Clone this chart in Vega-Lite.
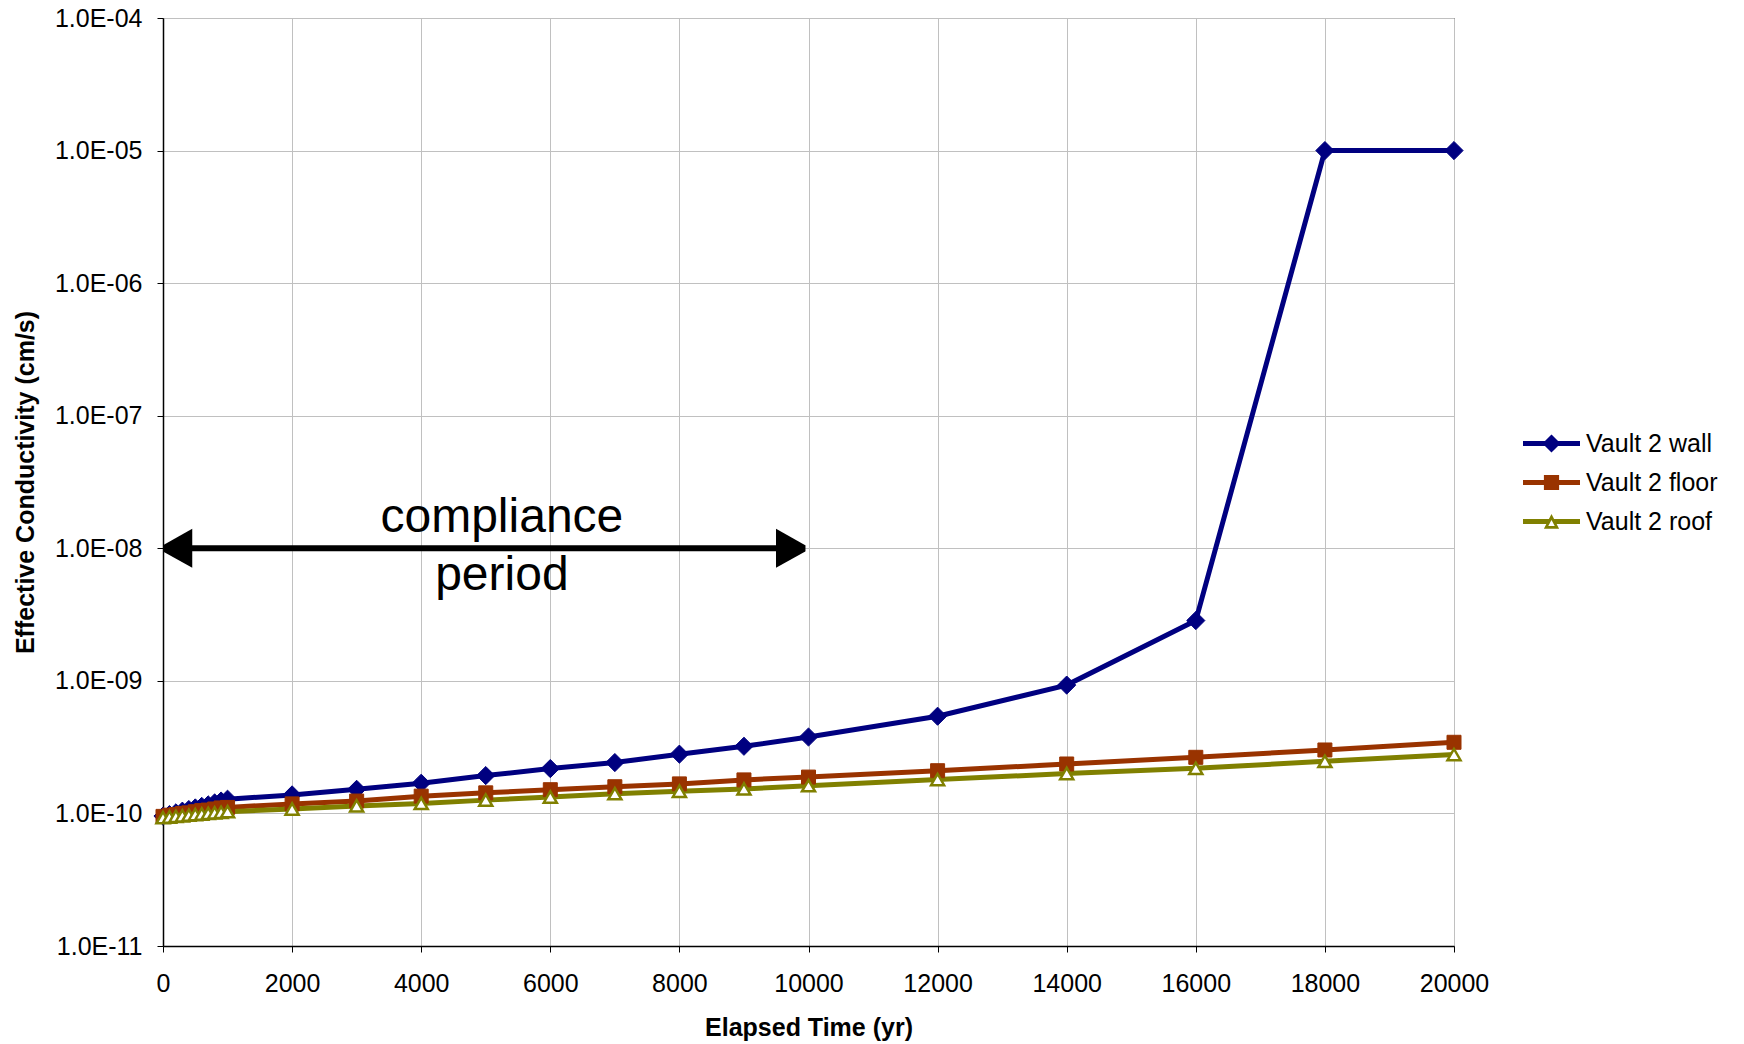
{
  "$schema": "https://vega.github.io/schema/vega-lite/v6.json",
  "width": 1291,
  "height": 928,
  "autosize": {"type": "none"},
  "padding": {"left": 163, "top": 18, "right": 290, "bottom": 98},
  "background": "white",
  "config": {
    "font": "Liberation Sans",
    "view": {"stroke": "#000000", "strokeWidth": 1},
    "axis": {
      "domainColor": "#000000",
      "domainWidth": 1.5,
      "tickColor": "#000000",
      "tickSize": 6,
      "tickWidth": 1,
      "gridColor": "#c0c0c0",
      "gridWidth": 1,
      "labelColor": "#000000",
      "labelFont": "Liberation Sans",
      "labelFontSize": 25,
      "labelFlush": false,
      "labelOverlap": false,
      "titleColor": "#000000",
      "titleFont": "Liberation Sans",
      "titleFontSize": 25,
      "titleFontWeight": "bold"
    }
  },
  "datasets": {
    "cond": [
      {"t": 0, "series": "Vault 2 wall", "k": 9.55e-11},
      {"t": 100, "series": "Vault 2 wall", "k": 9.8e-11},
      {"t": 200, "series": "Vault 2 wall", "k": 1.01e-10},
      {"t": 300, "series": "Vault 2 wall", "k": 1.04e-10},
      {"t": 400, "series": "Vault 2 wall", "k": 1.07e-10},
      {"t": 500, "series": "Vault 2 wall", "k": 1.10e-10},
      {"t": 600, "series": "Vault 2 wall", "k": 1.13e-10},
      {"t": 700, "series": "Vault 2 wall", "k": 1.16e-10},
      {"t": 800, "series": "Vault 2 wall", "k": 1.20e-10},
      {"t": 900, "series": "Vault 2 wall", "k": 1.24e-10},
      {"t": 1000, "series": "Vault 2 wall", "k": 1.28e-10},
      {"t": 2000, "series": "Vault 2 wall", "k": 1.38e-10},
      {"t": 3000, "series": "Vault 2 wall", "k": 1.52e-10},
      {"t": 4000, "series": "Vault 2 wall", "k": 1.69e-10},
      {"t": 5000, "series": "Vault 2 wall", "k": 1.93e-10},
      {"t": 6000, "series": "Vault 2 wall", "k": 2.18e-10},
      {"t": 7000, "series": "Vault 2 wall", "k": 2.42e-10},
      {"t": 8000, "series": "Vault 2 wall", "k": 2.80e-10},
      {"t": 9000, "series": "Vault 2 wall", "k": 3.21e-10},
      {"t": 10000, "series": "Vault 2 wall", "k": 3.77e-10},
      {"t": 12000, "series": "Vault 2 wall", "k": 5.41e-10},
      {"t": 14000, "series": "Vault 2 wall", "k": 9.29e-10},
      {"t": 16000, "series": "Vault 2 wall", "k": 2.85e-9},
      {"t": 18000, "series": "Vault 2 wall", "k": 1.0e-5},
      {"t": 20000, "series": "Vault 2 wall", "k": 1.0e-5},
      {"t": 0, "series": "Vault 2 floor", "k": 9.5e-11},
      {"t": 100, "series": "Vault 2 floor", "k": 9.7e-11},
      {"t": 200, "series": "Vault 2 floor", "k": 9.8e-11},
      {"t": 300, "series": "Vault 2 floor", "k": 1.00e-10},
      {"t": 400, "series": "Vault 2 floor", "k": 1.01e-10},
      {"t": 500, "series": "Vault 2 floor", "k": 1.03e-10},
      {"t": 600, "series": "Vault 2 floor", "k": 1.05e-10},
      {"t": 700, "series": "Vault 2 floor", "k": 1.06e-10},
      {"t": 800, "series": "Vault 2 floor", "k": 1.08e-10},
      {"t": 900, "series": "Vault 2 floor", "k": 1.10e-10},
      {"t": 1000, "series": "Vault 2 floor", "k": 1.11e-10},
      {"t": 2000, "series": "Vault 2 floor", "k": 1.18e-10},
      {"t": 3000, "series": "Vault 2 floor", "k": 1.24e-10},
      {"t": 4000, "series": "Vault 2 floor", "k": 1.35e-10},
      {"t": 5000, "series": "Vault 2 floor", "k": 1.43e-10},
      {"t": 6000, "series": "Vault 2 floor", "k": 1.51e-10},
      {"t": 7000, "series": "Vault 2 floor", "k": 1.59e-10},
      {"t": 8000, "series": "Vault 2 floor", "k": 1.67e-10},
      {"t": 9000, "series": "Vault 2 floor", "k": 1.79e-10},
      {"t": 10000, "series": "Vault 2 floor", "k": 1.88e-10},
      {"t": 12000, "series": "Vault 2 floor", "k": 2.10e-10},
      {"t": 14000, "series": "Vault 2 floor", "k": 2.36e-10},
      {"t": 16000, "series": "Vault 2 floor", "k": 2.65e-10},
      {"t": 18000, "series": "Vault 2 floor", "k": 3.01e-10},
      {"t": 20000, "series": "Vault 2 floor", "k": 3.44e-10},
      {"t": 0, "series": "Vault 2 roof", "k": 9.3e-11},
      {"t": 100, "series": "Vault 2 roof", "k": 9.4e-11},
      {"t": 200, "series": "Vault 2 roof", "k": 9.5e-11},
      {"t": 300, "series": "Vault 2 roof", "k": 9.6e-11},
      {"t": 400, "series": "Vault 2 roof", "k": 9.7e-11},
      {"t": 500, "series": "Vault 2 roof", "k": 9.8e-11},
      {"t": 600, "series": "Vault 2 roof", "k": 9.9e-11},
      {"t": 700, "series": "Vault 2 roof", "k": 1.00e-10},
      {"t": 800, "series": "Vault 2 roof", "k": 1.01e-10},
      {"t": 900, "series": "Vault 2 roof", "k": 1.02e-10},
      {"t": 1000, "series": "Vault 2 roof", "k": 1.03e-10},
      {"t": 2000, "series": "Vault 2 roof", "k": 1.08e-10},
      {"t": 3000, "series": "Vault 2 roof", "k": 1.14e-10},
      {"t": 4000, "series": "Vault 2 roof", "k": 1.19e-10},
      {"t": 5000, "series": "Vault 2 roof", "k": 1.26e-10},
      {"t": 6000, "series": "Vault 2 roof", "k": 1.33e-10},
      {"t": 7000, "series": "Vault 2 roof", "k": 1.41e-10},
      {"t": 8000, "series": "Vault 2 roof", "k": 1.47e-10},
      {"t": 9000, "series": "Vault 2 roof", "k": 1.53e-10},
      {"t": 10000, "series": "Vault 2 roof", "k": 1.62e-10},
      {"t": 12000, "series": "Vault 2 roof", "k": 1.80e-10},
      {"t": 14000, "series": "Vault 2 roof", "k": 2.00e-10},
      {"t": 16000, "series": "Vault 2 roof", "k": 2.19e-10},
      {"t": 18000, "series": "Vault 2 roof", "k": 2.47e-10},
      {"t": 20000, "series": "Vault 2 roof", "k": 2.78e-10}
    ],
    "ann": [
      {"t0": 0, "t1": 9950, "tm": 5250, "k": 1e-8, "label": "compliance\nperiod"}
    ]
  },
  "layer": [
    {
      "data": {"name": "cond"},
      "mark": {"type": "line", "strokeWidth": 5},
      "encoding": {
        "x": {
          "field": "t", "type": "quantitative",
          "scale": {"domain": [0, 20000], "nice": false, "zero": false},
          "axis": {
            "title": "Elapsed Time (yr)",
            "values": [0, 2000, 4000, 6000, 8000, 10000, 12000, 14000, 16000, 18000, 20000],
            "format": "d",
            "labelPadding": 19,
            "titlePadding": 19,
            "grid": true
          }
        },
        "y": {
          "field": "k", "type": "quantitative",
          "scale": {"type": "log", "domain": [1e-11, 1e-4], "nice": false},
          "axis": {
            "title": "Effective Conductivity (cm/s)",
            "values": [1e-11, 1e-10, 1e-9, 1e-8, 1e-7, 1e-6, 1e-5, 1e-4],
            "labelExpr": "'1.0E-' + (round(log(datum.value)/LN10) > -10 ? '0' : '') + toString(-round(log(datum.value)/LN10))",
            "labelPadding": 15,
            "titlePadding": 16,
            "grid": true
          }
        },
        "color": {
          "field": "series", "type": "nominal",
          "scale": {"domain": ["Vault 2 wall", "Vault 2 floor", "Vault 2 roof"], "range": ["#000080", "#993300", "#808000"]},
          "legend": {
            "orient": "none",
            "legendX": 1376,
            "legendY": 413,
            "title": null,
            "padding": 0,
            "symbolSize": 361,
            "symbolStrokeWidth": 0,
            "symbolType": "circle",
            "labelFontSize": 25,
            "labelFont": "Liberation Sans",
            "labelColor": "#000000",
            "labelOffset": 22,
            "rowPadding": 13,
            "encode": {
              "symbols": {
                "update": {
                  "shape": {"signal": "datum.value === 'Vault 2 wall' ? 'M-3,-0.26H3V0.26H-3Z M0,-0.95L0.95,0L0,0.95L-0.95,0Z' : datum.value === 'Vault 2 floor' ? 'M-3,-0.26H3V0.26H-3Z M-0.8,-0.8H0.8V0.8H-0.8Z' : 'M-3,-0.26H-0.25V0.26H-3Z M0.25,-0.26H3V0.26H0.25Z M0,-0.8L0.8,0.75L-0.8,0.75Z M0,-0.15L-0.34,0.48L0.34,0.48Z'"},
                  "fill": {"signal": "datum.value === 'Vault 2 wall' ? '#000080' : datum.value === 'Vault 2 floor' ? '#993300' : '#808000'"},
                  "stroke": {"value": "transparent"},
                  "strokeWidth": {"value": 0},
                  "opacity": {"value": 1},
                  "fillOpacity": {"value": 1}
                }
              }
            }
          }
        }
      }
    },
    {
      "data": {"name": "cond"},
      "transform": [{"filter": "datum.series === 'Vault 2 wall'"}],
      "mark": {"type": "point", "shape": "diamond", "filled": true, "size": 330, "color": "#000080", "stroke": "#000080", "strokeWidth": 1, "opacity": 1},
      "encoding": {
        "x": {"field": "t", "type": "quantitative", "title": "Elapsed Time (yr)"},
        "y": {"field": "k", "type": "quantitative", "title": "Effective Conductivity (cm/s)"}
      }
    },
    {
      "data": {"name": "cond"},
      "transform": [{"filter": "datum.series === 'Vault 2 floor'"}],
      "mark": {"type": "point", "shape": "square", "filled": true, "size": 196, "color": "#993300", "stroke": "#993300", "strokeWidth": 1, "opacity": 1},
      "encoding": {
        "x": {"field": "t", "type": "quantitative", "title": "Elapsed Time (yr)"},
        "y": {"field": "k", "type": "quantitative", "title": "Effective Conductivity (cm/s)"}
      }
    },
    {
      "data": {"name": "cond"},
      "transform": [{"filter": "datum.series === 'Vault 2 roof'"}],
      "mark": {"type": "point", "shape": "triangle-up", "filled": false, "fill": "#ffffff", "size": 170, "stroke": "#808000", "strokeWidth": 2.5, "opacity": 1, "fillOpacity": 1},
      "encoding": {
        "x": {"field": "t", "type": "quantitative", "title": "Elapsed Time (yr)"},
        "y": {"field": "k", "type": "quantitative", "title": "Effective Conductivity (cm/s)"}
      }
    },
    {
      "data": {"name": "ann"},
      "mark": {"type": "rule", "color": "#000000", "strokeWidth": 6},
      "encoding": {
        "x": {"field": "t0", "type": "quantitative", "title": "Elapsed Time (yr)"},
        "x2": {"field": "t1"},
        "y": {"field": "k", "type": "quantitative", "title": "Effective Conductivity (cm/s)"}
      }
    },
    {
      "data": {"name": "ann"},
      "mark": {"type": "point", "shape": "M0,-0.16L1.5,-1L1.5,1L0,0.16Z", "filled": true, "size": 1521, "color": "#000000", "strokeWidth": 0, "opacity": 1},
      "encoding": {
        "x": {"field": "t0", "type": "quantitative", "title": "Elapsed Time (yr)"},
        "y": {"field": "k", "type": "quantitative", "title": "Effective Conductivity (cm/s)"}
      }
    },
    {
      "data": {"name": "ann"},
      "mark": {"type": "point", "shape": "M0,-0.16L-1.5,-1L-1.5,1L0,0.16Z", "filled": true, "size": 1521, "color": "#000000", "strokeWidth": 0, "opacity": 1},
      "encoding": {
        "x": {"field": "t1", "type": "quantitative", "title": "Elapsed Time (yr)"},
        "y": {"field": "k", "type": "quantitative", "title": "Effective Conductivity (cm/s)"}
      }
    },
    {
      "data": {"name": "ann"},
      "mark": {"type": "text", "font": "Liberation Sans", "fontSize": 48, "color": "#000000", "align": "center", "baseline": "alphabetic", "lineBreak": "\n", "lineHeight": 58, "dy": -16},
      "encoding": {
        "x": {"field": "tm", "type": "quantitative", "title": "Elapsed Time (yr)"},
        "y": {"field": "k", "type": "quantitative", "title": "Effective Conductivity (cm/s)"},
        "text": {"field": "label"}
      }
    }
  ]
}
